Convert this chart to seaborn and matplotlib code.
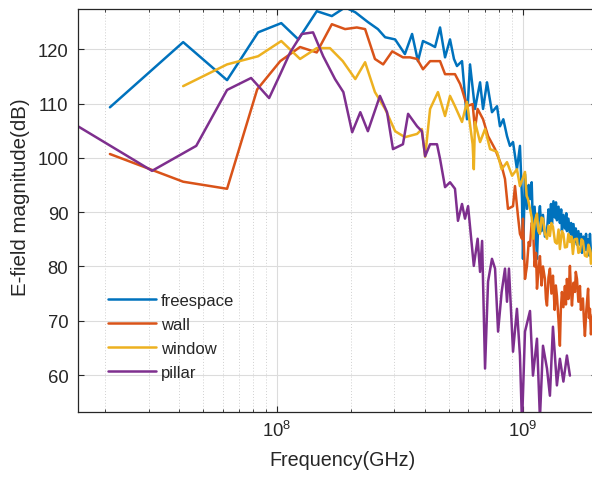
import numpy as np
import pandas as pd
import matplotlib
matplotlib.use("Agg")
import matplotlib.pyplot as plt
import seaborn as sns
from matplotlib.ticker import LogLocator, NullFormatter, FixedLocator, NullLocator

# ---------------- data (frequency in MHz, magnitude in dB) ----------------
series_names = ["freespace", "wall", "window", "pillar"]

freespace_mhz = [20.9, 41.5, 62.6, 83.7, 104, 122, 145, 167, 189, 208, 234, 257, 275, 302,
                 331, 354, 374, 392, 419, 439, 460, 482, 505, 524, 539, 565, 592, 609, 638,
                 669, 688, 714, 748, 784, 806, 832, 861, 885, 911, 945, 972, 991, 1000, 1019,
                 1038, 1055, 1068, 1085, 1098, 1115, 1130, 1140, 1155, 1172, 1190, 1206, 1228,
                 1252, 1270, 1287, 1300, 1312, 1330, 1349, 1362, 1374, 1395, 1413, 1430, 1440,
                 1460, 1481, 1500, 1509, 1530, 1552, 1570, 1582, 1605, 1627, 1640, 1658, 1680,
                 1705, 1720, 1737, 1760, 1786, 1805, 1820, 1840, 1860, 1872, 1890, 1908, 1935,
                 1963]
freespace_db = [109.3, 121.3, 114.3, 123.1, 124.8, 121.8, 127.0, 126.1, 127.7, 126.8, 125.0,
                123.7, 122.2, 121.8, 119.1, 122.8, 117.8, 121.5, 120.9, 120.4, 124.0, 118.5,
                121.8, 118.2, 116.9, 117.8, 107.1, 117.2, 109.0, 113.9, 109.0, 113.9, 108.4,
                109.5, 105.8, 107.1, 104.0, 102.2, 102.9, 97.9, 102.2, 92.4, 81.4, 97.0, 90.6,
                95.0, 92.4, 95.5, 86.9, 91.0, 85.0, 81.4, 88.5, 91.1, 86.5, 89.5, 85.5, 86.4,
                90.5, 88.0, 91.5, 87.8, 92.0, 89.0, 91.8, 88.5, 91.0, 88.0, 90.5, 86.5, 89.5,
                87.0, 89.8, 86.5, 88.8, 86.0, 88.0, 85.0, 87.8, 84.5, 87.0, 84.0, 86.5, 84.0,
                86.0, 82.5, 85.5, 83.0, 86.0, 83.0, 85.0, 82.0, 86.0, 82.5, 81.0, 84.0, 85.1]

wall_mhz = [20.9, 41.5, 62.6, 83, 103, 124, 145, 167, 189, 211, 228, 250, 270, 294, 325, 347,
            371, 392, 419, 460, 482, 529, 555, 565, 592, 624, 638, 654, 688, 721, 770, 819,
            845, 869, 911, 928, 954, 972, 991, 1000, 1019, 1038, 1055, 1068, 1085, 1098, 1115,
            1130, 1140, 1155, 1172, 1190, 1206, 1228, 1240, 1252, 1270, 1287, 1305, 1324, 1345,
            1360, 1374, 1395, 1413, 1425, 1440, 1460, 1481, 1495, 1509, 1530, 1552, 1565, 1582,
            1605, 1627, 1640, 1658, 1680, 1705, 1720, 1753, 1770, 1786, 1810, 1840, 1855, 1872,
            1890, 1908, 1935, 1963]
wall_db = [100.7, 95.6, 94.3, 112.6, 117.8, 120.4, 119.4, 124.6, 123.7, 124.0, 123.7, 118.2,
           117.2, 119.6, 118.5, 118.5, 118.2, 116.3, 117.8, 117.8, 115.4, 115.4, 113.6, 112.6,
           109.5, 109.9, 105.3, 109.0, 107.1, 104.0, 101.6, 98.5, 96.1, 90.6, 91.1, 94.8,
           89.3, 86.0, 85.1, 88.8, 77.7, 80.1, 84.5, 83.8, 88.0, 87.5, 80.0, 82.5, 75.9, 79.0,
           81.9, 76.5, 80.0, 77.7, 74.0, 72.8, 78.0, 79.6, 75.0, 78.3, 72.0, 76.5, 74.6, 70.0,
           65.4, 72.0, 75.3, 72.5, 76.4, 73.0, 77.7, 74.0, 80.1, 76.0, 72.8, 77.0, 75.3, 79.0,
           77.7, 73.5, 76.4, 72.0, 74.1, 70.0, 67.2, 72.0, 75.9, 70.5, 72.2, 67.5, 69.4, 72.0,
           74.1]

window_mhz = [41.5, 62.6, 83.7, 104, 124, 145, 164, 185, 208, 228, 250, 275, 302, 331, 371,
              388, 400, 419, 451, 482, 505, 529, 565, 592, 624, 631, 638, 669, 701, 735, 784,
              819, 861, 903, 945, 972, 1019, 1035, 1048, 1068, 1085, 1098, 1120, 1140, 1155,
              1172, 1190, 1206, 1228, 1252, 1270, 1287, 1305, 1324, 1350, 1374, 1395, 1413,
              1440, 1460, 1481, 1509, 1530, 1552, 1575, 1596, 1620, 1658, 1680, 1705, 1730,
              1753, 1785, 1820, 1845, 1872, 1890, 1908, 1935, 1963]
window_db = [113.2, 117.2, 118.7, 121.5, 118.2, 120.2, 120.2, 117.8, 114.5, 117.6, 112.1,
             109.0, 104.9, 103.8, 104.4, 105.3, 100.2, 109.0, 112.1, 107.7, 111.4, 109.5,
             106.6, 110.3, 102.5, 97.9, 106.6, 102.9, 105.3, 101.6, 101.1, 97.9, 99.2, 96.7,
             97.9, 94.8, 97.4, 93.0, 92.4, 90.6, 89.0, 85.1, 88.5, 89.7, 86.5, 86.0, 89.0,
             88.8, 86.0, 85.1, 87.5, 85.6, 88.0, 87.3, 84.5, 84.2, 86.8, 83.2, 86.5, 86.0,
             83.5, 83.6, 86.0, 84.5, 85.5, 82.3, 85.0, 85.1, 82.5, 82.7, 85.0, 84.7, 82.0,
             81.8, 84.0, 83.2, 80.5, 81.0, 84.0, 84.2]

pillar_mhz = [15.5, 31, 46.9, 62.6, 78.4, 92.8, 103, 113, 126, 140, 154, 172, 186, 202, 218,
              234, 262, 280, 296, 325, 341, 371, 388, 400, 419, 447, 460, 482, 505, 529, 544,
              565, 581, 598, 631, 654, 669, 682, 701, 721, 748, 770, 792, 819, 845, 861, 877,
              911, 945, 972, 991, 1019, 1068, 1098, 1140, 1172, 1206, 1252, 1287, 1324, 1374,
              1413, 1460, 1509, 1552]
pillar_db = [105.8, 97.6, 102.2, 112.5, 114.7, 111.0, 115.4, 119.4, 122.8, 123.1, 118.7,
             114.5, 112.1, 104.7, 108.4, 104.9, 111.4, 108.4, 101.6, 102.5, 108.1, 105.8,
             104.9, 100.3, 102.5, 102.5, 99.8, 94.6, 95.5, 94.3, 88.4, 91.5, 88.8, 91.1,
             80.1, 85.1, 79.0, 84.7, 61.2, 77.2, 81.4, 79.6, 68.0, 75.3, 79.6, 73.5, 79.6,
             64.3, 72.2, 63.6, 51.0, 68.0, 71.8, 59.9, 66.7, 52.0, 65.4, 61.2, 56.2, 68.9,
             58.1, 63.0, 58.8, 63.6, 59.9]

y_ticks = [60, 70, 80, 90, 100, 110, 120]
x_label = "Frequency(GHz)"
y_label = "E-field magnitude(dB)"

colors = ["#0072BD", "#D95319", "#EDB120", "#7E2F8E"]

# ---------------- build long table ----------------
frames = []
for name, f, v in [("freespace", freespace_mhz, freespace_db),
                   ("wall", wall_mhz, wall_db),
                   ("window", window_mhz, window_db),
                   ("pillar", pillar_mhz, pillar_db)]:
    frames.append(pd.DataFrame({"freq": np.array(f) * 1e6, "db": v, "series": name}))
df = pd.concat(frames, ignore_index=True)

# ---------------- style ----------------
sns.set_style("ticks")
plt.rcParams["font.family"] = ["Liberation Sans", "DejaVu Sans"]
plt.rcParams["mathtext.fontset"] = "custom"
plt.rcParams["mathtext.rm"] = "Liberation Sans"
plt.rcParams["mathtext.it"] = "Liberation Sans"

fig = plt.figure(figsize=(5.92, 4.85), dpi=100)
ax = fig.add_axes([78 / 592, 72 / 485, 519 / 592, 403 / 485])

sns.lineplot(data=df, x="freq", y="db", hue="series", hue_order=series_names,
             palette=colors, estimator=None, sort=True, linewidth=1.8, ax=ax)

ax.set_xscale("log")
ax.set_xlim(1.55e7, 2.0e9)
ax.set_ylim(53.2, 127.4)
ax.yaxis.set_major_locator(FixedLocator(y_ticks))
ax.yaxis.set_minor_locator(NullLocator())
ax.xaxis.set_major_locator(LogLocator(base=10))
ax.xaxis.set_minor_locator(LogLocator(base=10, subs=np.arange(2, 10)))
ax.xaxis.set_minor_formatter(NullFormatter())

ax.xaxis.grid(True, which="major", color="#dcdcdc", linewidth=0.8, linestyle="-")
ax.yaxis.grid(True, which="major", color="#dcdcdc", linewidth=0.8, linestyle="-")
ax.xaxis.grid(True, which="minor", color="#d0d0d0", linewidth=0.7, linestyle=(0, (1, 2)))
ax.yaxis.grid(False, which="minor")
ax.set_axisbelow(True)

for s in ax.spines.values():
    s.set_color("#262626")
    s.set_linewidth(0.9)

ax.tick_params(which="both", direction="in", top=True, right=True, colors="#262626",
               labelsize=13.3, labelcolor="#262626")
ax.tick_params(which="major", length=4.5, width=0.8)
ax.tick_params(which="minor", length=2.5, width=0.6)
ax.tick_params(axis="y", pad=7)
ax.tick_params(axis="x", pad=6)

ax.set_xlabel(x_label, fontsize=14.2, color="#262626")
ax.set_ylabel(y_label, fontsize=14.8, color="#262626")
ax.xaxis.set_label_coords(0.51, -0.095)
ax.yaxis.set_label_coords(-0.092, 0.535)

handles, labels = ax.get_legend_handles_labels()
leg = ax.legend(handles, labels, loc="upper left", frameon=False, fontsize=12,
                handlelength=2.9, handletextpad=0.3, labelspacing=0.55,
                borderpad=0.4, borderaxespad=0,
                bbox_to_anchor=(101 / 592, 1 - 287 / 485), bbox_transform=fig.transFigure)
for t in leg.get_texts():
    t.set_color("#262626")

fig.savefig("out.png", dpi=100)
